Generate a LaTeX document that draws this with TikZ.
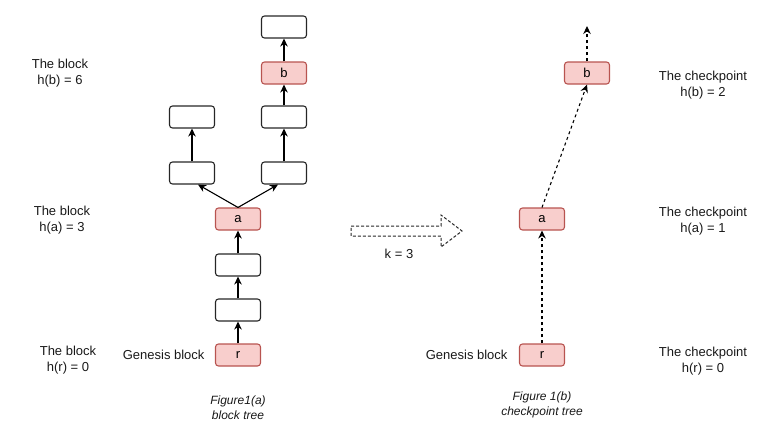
\documentclass[tikz,border=0pt]{standalone}
\usepackage{fontspec}
\setmainfont{Liberation Sans}
\usetikzlibrary{arrows.meta}

\begin{document}
\begin{tikzpicture}[x=1pt, y=-1pt, > = {Stealth[length=8pt,width=7.5pt]},
	font=\fontsize{13}{15.5}\selectfont,
	block/.style={draw=black!85, line width=1.1pt, rounded corners=3pt, minimum width=45pt, minimum height=22pt, inner sep=0pt},
	redblock/.style={block, draw={rgb,255:red,184;green,84;blue,80}, fill={rgb,255:red,248;green,206;blue,204}},
	link/.style={->, line width=1.1pt},
	dlink/.style={->, line width=1.1pt, dash pattern=on 3pt off 3pt},
	label/.style={align=center, text=black!90},
	]

	\useasboundingbox (0,0) rectangle (774,447);

	% block tree
	\node[redblock] (r) at (238,355) {r};
	\node[block] (c1) at (238,310) {};
	\node[block] (c2) at (238,265) {};
	\node[redblock] (a) at (238,219) {a};
	\node[block] (l1) at (192,173) {};
	\node[block] (l2) at (192,117) {};
	\node[block] (r1) at (284,173) {};
	\node[block] (r2) at (284,117) {};
	\node[redblock] (b) at (284,73) {b};
	\node[block] (top) at (284,27) {};

	\draw[link] (r) -- (c1);
	\draw[link] (c1) -- (c2);
	\draw[link] (c2) -- (a);
	\draw[link] (a.north) -- ([xshift=6pt]l1.south);
	\draw[link] (a.north) -- ([xshift=-6pt]r1.south);
	\draw[link] (l1) -- (l2);
	\draw[link] (r1) -- (r2);
	\draw[link] (r2) -- (b);
	\draw[link] (b) -- (top);

	\node[label] (hb) at (60,73) {The block\\h(b) = 6};
	\node[label] (ha) at (62,220) {The block\\h(a) = 3};
	\node[label] (hr) at (68,360) {The block\\h(r) = 0};
	\node[label, anchor=east] (gen) at (208,355) {Genesis block};
	\node[label, font=\fontsize{12}{15}\selectfont\itshape] (figa) at (238,408) {Figure1(a)\\block tree};

	% the k = 3 arrow
	\draw[line width=1pt, black!85, dash pattern=on 3pt off 2pt] (351,226) -- (441,226) -- (441,215) -- (462,231) -- (441,247) -- (441,236) -- (351,236) -- cycle;
	\node[label] (k) at (399,254) {k = 3};

	% checkpoint tree
	\node[redblock] (cr) at (542,355) {r};
	\node[redblock] (ca) at (542,219) {a};
	\node[redblock] (cb) at (587,73) {b};
	\coordinate (cup) at (587,26);

	\draw[dlink] (cr) -- (ca);
	\draw[dlink] (ca.north) -- (cb.south);
	\draw[dlink] (cb) -- (cup);

	\node[label] (chb) at (703,85) {The checkpoint\\h(b) = 2};
	\node[label] (cha) at (703,221) {The checkpoint\\h(a) = 1};
	\node[label] (chr) at (703,361) {The checkpoint\\h(r) = 0};
	\node[label, anchor=east] (cgen) at (511,355) {Genesis block};
	\node[label, font=\fontsize{12}{15}\selectfont\itshape] (figb) at (542,405) {Figure 1(b)\\checkpoint tree};

\end{tikzpicture}
\end{document}
